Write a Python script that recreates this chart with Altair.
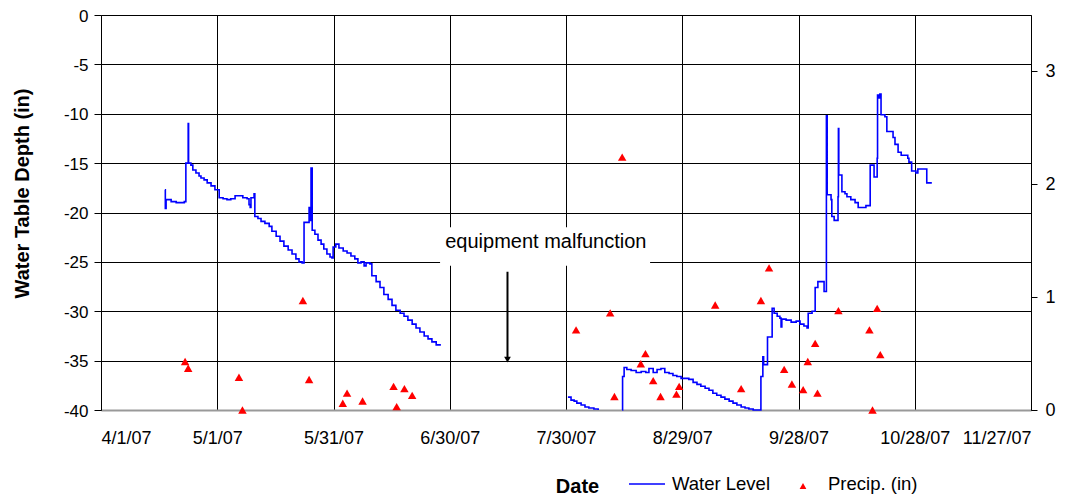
import altair as alt
import pandas as pd

START = pd.Timestamp("2007-04-01")

# ---- Water level (days after 4/1/07, depth in inches), three recorded segments ----
water_seg1 = [
    (16.5, -17.7), (16.6, -19.6), (16.8, -18.7), (18.1, -18.9), (19.4, -19.0),
    (21.5, -18.9), (21.9, -15.0), (22.5, -11.0), (22.6, -15.0), (23.2, -15.2),
    (23.7, -15.7), (24.5, -16.0), (25.3, -16.3), (25.8, -16.5), (26.6, -16.7),
    (27.4, -17.0), (28.4, -17.3), (29.4, -17.7), (30.5, -18.5), (31.5, -18.6),
    (32.5, -18.7), (33.5, -18.6), (34.6, -18.3), (36.6, -18.5), (37.7, -18.6),
    (38.2, -19.2), (38.5, -19.5), (38.7, -18.5), (39.5, -18.1), (39.7, -20.4),
    (40.5, -20.6), (41.3, -20.9), (42.3, -21.1), (43.4, -21.4), (44.1, -21.9),
    (45.2, -22.4), (46.2, -22.9), (47.2, -23.4), (48.3, -23.8), (49.3, -24.2),
    (50.3, -24.7), (51.1, -25.0), (51.9, -25.1), (52.4, -21.0), (53.7, -19.5),
    (53.9, -20.8), (54.2, -15.5), (54.5, -21.8), (55.2, -22.2), (56.0, -22.8),
    (56.8, -23.2), (57.5, -23.7), (58.3, -24.2), (59.1, -24.5), (59.6, -24.6),
    (59.9, -23.5), (60.6, -23.2), (61.4, -23.6), (62.5, -23.9), (63.5, -24.1),
    (64.5, -24.4), (65.5, -24.7), (66.3, -25.1), (67.1, -25.0), (67.9, -25.4),
    (68.4, -25.1), (69.4, -25.2), (69.9, -26.4), (71.0, -27.0), (72.0, -27.6),
    (73.0, -28.3), (74.1, -28.8), (75.1, -29.4), (76.1, -29.9), (77.2, -30.2),
    (78.2, -30.5), (79.2, -30.9), (80.3, -31.3), (81.3, -31.7), (82.3, -32.1),
    (83.4, -32.5), (84.4, -32.8), (85.4, -33.1), (86.5, -33.4), (87.5, -33.5),
]
water_seg2 = [
    (120.5, -38.7), (121.3, -39.0), (122.1, -39.1), (122.8, -39.3), (123.9, -39.5),
    (124.9, -39.7), (125.9, -39.8), (127.2, -39.9), (128.3, -40.0),
]
water_seg3 = [
    (134.5, -40.0), (134.6, -36.6), (135.0, -35.7), (135.7, -35.9), (136.8, -36.0),
    (138.1, -36.2), (139.4, -36.1), (140.6, -36.2), (141.4, -35.8), (142.5, -36.2),
    (143.5, -35.9), (144.5, -35.8), (145.5, -36.2), (146.6, -36.3), (147.6, -36.5),
    (148.6, -36.6), (149.7, -36.8), (151.7, -36.9), (152.8, -37.2), (153.8, -37.4),
    (154.8, -37.6), (155.9, -37.8), (156.9, -38.0), (157.9, -38.3), (158.9, -38.5),
    (160.0, -38.7), (161.0, -38.9), (162.1, -39.1), (163.1, -39.3), (164.1, -39.5),
    (165.2, -39.7), (166.2, -39.8), (167.2, -39.9), (168.3, -40.0), (170.3, -36.6),
    (170.8, -34.6), (171.0, -35.4), (172.0, -32.6), (173.2, -29.7), (173.7, -30.2),
    (174.5, -30.5), (175.2, -30.7), (175.5, -31.6), (175.7, -30.8), (176.8, -30.9),
    (178.1, -31.1), (179.4, -31.0), (180.4, -31.3), (181.4, -31.5), (182.2, -31.7),
    (182.5, -30.2), (183.5, -30.0), (184.3, -27.6), (185.0, -27.0), (186.6, -28.0),
    (187.2, -10.2), (187.4, -18.2), (188.4, -18.7), (188.6, -20.4), (189.2, -20.8),
    (190.2, -18.4), (190.3, -11.5), (190.4, -16.2), (191.2, -17.9), (192.0, -18.1),
    (192.5, -18.4), (193.5, -18.7), (194.6, -19.0), (195.4, -19.5), (197.4, -19.3),
    (198.5, -15.2), (199.5, -16.4), (200.3, -14.5), (200.4, -8.1), (200.8, -8.4),
    (201.0, -8.0), (201.3, -10.1), (202.3, -10.3), (202.8, -11.8), (204.4, -12.4),
    (204.9, -13.1), (205.7, -13.9), (206.5, -14.2), (208.2, -14.5), (208.5, -14.9),
    (209.2, -15.8), (210.3, -16.0), (210.8, -15.6), (213.1, -17.0), (214.2, -17.1),
]

# ---- Precipitation (days after 4/1/07, inches) ----
precip_day = [
    21.7, 22.5, 35.6, 36.5, 52.1, 53.7, 62.4, 63.5, 67.5, 75.5, 76.3, 78.3, 80.3,
    122.6, 131.4, 132.5, 134.5, 139.3, 140.5, 142.5, 144.4, 148.5, 149.2, 158.5,
    165.2, 170.3, 172.4, 176.3, 178.3, 181.2, 182.4, 184.3, 184.9, 190.3, 198.3,
    199.1, 200.3, 201.1,
]
precip_in = [
    0.43, 0.37, 0.29, 0.0, 0.97, 0.27, 0.06, 0.15, 0.08, 0.21, 0.03, 0.19, 0.13,
    0.71, 0.86, 0.12, 2.24, 0.41, 0.50, 0.26, 0.12, 0.14, 0.21, 0.93,
    0.19, 0.97, 1.26, 0.36, 0.23, 0.18, 0.43, 0.59, 0.15, 0.88, 0.71,
    0.0, 0.90, 0.49,
]

x_tick_labels = ["4/1/07", "5/1/07", "5/31/07", "6/30/07", "7/30/07",
                 "8/29/07", "9/28/07", "10/28/07", "11/27/07"]
depth_ticks = [0, -5, -10, -15, -20, -25, -30, -35, -40]
precip_ticks = [0, 1, 2, 3]

# annotation (days after 4/1/07, depth)
note_text = "equipment malfunction"
note_day, note_depth = 114.8, -23.0
note_box_day = [87.5, 141.7]
note_box_depth = [-21.5, -25.4]
arrow_day, arrow_from, arrow_to = 104.9, -26.0, -34.9

FONT = "Liberation Sans"


def to_date(d):
    return START + pd.to_timedelta(d, unit="D")


rows = []
for seg_id, seg in enumerate([water_seg1, water_seg2, water_seg3]):
    for d, v in seg:
        rows.append({"date": to_date(d), "depth": v, "seg": seg_id})
water_df = pd.DataFrame(rows)

precip_df = pd.DataFrame({"date": [to_date(d) for d in precip_day], "precip": precip_in})

tick_dates = [pd.to_datetime(t, format="%m/%d/%y") for t in x_tick_labels]
tick_dt = [alt.DateTime(year=t.year, month=t.month, date=t.day) for t in tick_dates]

x_enc = alt.X(
    "date:T",
    scale=alt.Scale(domain=[tick_dt[0], tick_dt[-1]]),
    axis=alt.Axis(
        values=tick_dt,
        labelExpr="timeFormat(datum.value, '%-m/%-d/%y')",
        grid=True, gridColor="#000", gridWidth=1,
        ticks=False, labelPadding=19, labelFontSize=18, labelColor="#000",
        domainColor="#999", domainWidth=2,
        title="Date", titleFontSize=20, titleFontWeight="bold", titleColor="#000",
        titleX=476, titleY=76, titleBaseline="middle", titleAlign="center",
    ),
)

y_left = alt.Y(
    "depth:Q",
    scale=alt.Scale(domain=[-40, 0], nice=False),
    axis=alt.Axis(
        values=depth_ticks, grid=True, gridColor="#000", gridWidth=1,
        labelExpr="datum.value + ''",
        tickSize=7, tickColor="#000", domainColor="#000",
        labelFontSize=17, labelPadding=6, labelOffset=1, labelColor="#000",
        title="Water Table Depth (in)", titleFontSize=20, titleFontWeight="bold",
        titleColor="#000", titleX=-79, titleY=178, titleAngle=-90,
        titleAlign="center", titleBaseline="middle",
    ),
)

water = alt.Chart(water_df).mark_line(
    interpolate="step-after", color="#0000FF", strokeWidth=1.6
).encode(x=x_enc, y=y_left, detail="seg:N")

note_box_df = pd.DataFrame({
    "d1": [to_date(note_box_day[0])], "d2": [to_date(note_box_day[1])],
    "v1": [note_box_depth[0]], "v2": [note_box_depth[1]],
})
note_box = alt.Chart(note_box_df).mark_rect(color="white").encode(
    x="d1:T", x2="d2:T", y="v1:Q", y2="v2:Q"
)

note_df = pd.DataFrame({"date": [to_date(note_day)], "depth": [note_depth], "t": [note_text]})
note = alt.Chart(note_df).mark_text(
    font=FONT, fontSize=20, color="#000", align="center", baseline="middle"
).encode(x="date:T", y="depth:Q", text="t:N")

arrow_df = pd.DataFrame({"date": [to_date(arrow_day)], "a": [arrow_from], "b": [arrow_to]})
arrow_shaft = alt.Chart(arrow_df).mark_rule(color="#000", strokeWidth=2).encode(
    x="date:T", y="a:Q", y2="b:Q"
)
arrow_head = alt.Chart(arrow_df).mark_point(
    shape="triangle-down", filled=True, color="#000", size=45, opacity=1
).encode(x="date:T", y="b:Q")

left_layer = alt.layer(water, note_box, note, arrow_shaft, arrow_head)

precip = alt.Chart(precip_df).mark_point(
    shape="triangle-up", filled=True, color="#FF0000", size=72, opacity=1
).encode(
    x="date:T",
    y=alt.Y(
        "precip:Q",
        scale=alt.Scale(domain=[0, 3.5], nice=False),
        axis=alt.Axis(
            orient="right", values=precip_ticks, grid=False,
            tickSize=6, tickColor="#000", domainColor="#000",
            labelFontSize=18, labelPadding=8, labelColor="#000", title=None,
        ),
    ),
)

legend_df = pd.DataFrame({"k": [0]})
leg_line = alt.Chart(legend_df).mark_rule(color="#0000FF", strokeWidth=1.6).encode(
    x=alt.value(528), x2=alt.value(564), y=alt.value(469)
)
leg_line_text = alt.Chart(legend_df).mark_text(
    font=FONT, fontSize=18.5, align="left", baseline="middle", color="#000"
).encode(x=alt.value(571), y=alt.value(469), text=alt.value("Water Level"))
leg_tri = alt.Chart(legend_df).mark_point(
    shape="triangle-up", filled=True, color="#FF0000", size=45, opacity=1
).encode(x=alt.value(702), y=alt.value(471))
leg_tri_text = alt.Chart(legend_df).mark_text(
    font=FONT, fontSize=18.5, align="left", baseline="middle", color="#000"
).encode(x=alt.value(727), y=alt.value(469), text=alt.value("Precip. (in)"))

chart = alt.layer(
    left_layer, precip, leg_line, leg_line_text, leg_tri, leg_tri_text
).resolve_scale(y="independent").properties(
    width=930, height=395,
    autosize=alt.AutoSizeParams(type="none"),
    padding={"left": 93, "top": 7, "right": 26, "bottom": 86},
    background="white",
).configure_axis(
    labelFont=FONT, titleFont=FONT
).configure_view(strokeWidth=0)

chart.save("out.html", embed_options={"renderer": "svg", "actions": False})
